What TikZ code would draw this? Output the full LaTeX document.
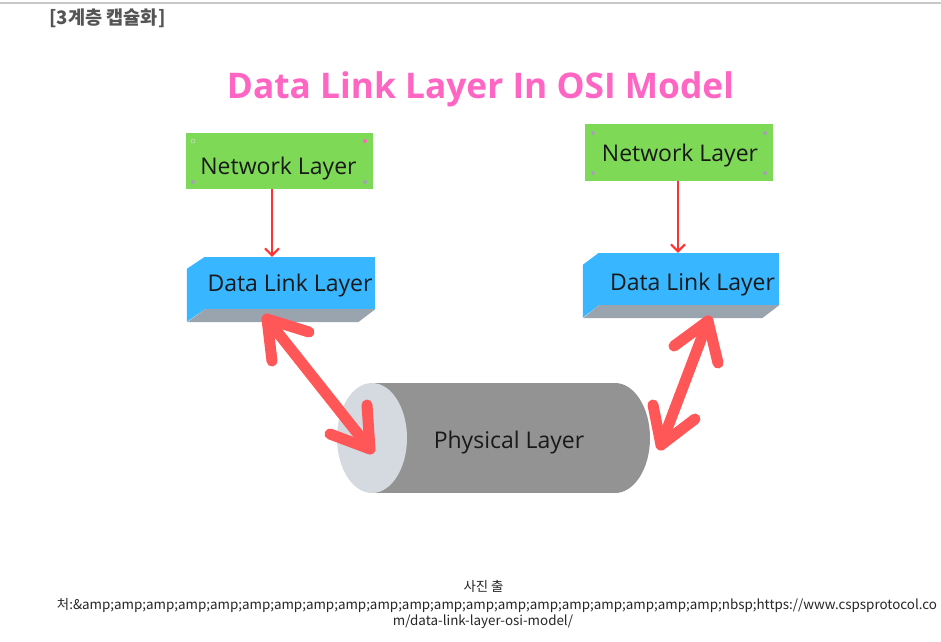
\documentclass[tikz,border=0pt]{standalone}
\usepackage{fontspec}
\setmainfont{Open Sans}
\newfontfamily\krfont{Noto Sans CJK KR}
\usetikzlibrary{arrows.meta}
\definecolor{netgreen}{HTML}{7ED957}
\definecolor{dlblue}{HTML}{38B6FF}
\definecolor{dlgray}{HTML}{9AA4AE}
\definecolor{cylgray}{HTML}{939393}
\definecolor{cylend}{HTML}{D5DAE0}
\definecolor{bigred}{HTML}{FF5757}
\definecolor{thinred}{HTML}{FF3131}
\definecolor{titlepink}{HTML}{FF66C4}
\definecolor{hdrgray}{HTML}{555555}
\definecolor{dotgray}{HTML}{A3A3B5}
\definecolor{topline}{HTML}{C8C8C8}
\begin{document}
\begin{tikzpicture}[x=1pt,y=-1pt,
  netbox/.style={fill=netgreen, minimum width=187pt, minimum height=56pt, inner sep=0pt},
  dlbox/.style={fill=dlblue, minimum height=52pt, inner sep=0pt},
  lbl/.style={anchor=base, font=\fontsize{23}{28}\selectfont, text=black!90, inner sep=0pt},
  thinarrow/.style={draw=thinred, line width=2pt, -{Straight Barb[length=7pt,width=14pt]}},
  bigarrow/.style={draw=bigred, line width=11pt, line cap=round, line join=round},
  handle/.style={circle, fill=dotgray, minimum size=4pt, inner sep=0pt},
  capt/.style={font=\krfont\fontsize{13.4}{16}\selectfont, text=black!85, inner sep=0pt},
]
\useasboundingbox (0,0) rectangle (941,641);
\fill[white] (0,0) rectangle (941,641);
\coordinate (tl) at (0,3);
\coordinate (tr) at (941,3);
\draw[topline, line width=1.5pt] (tl) -- (tr);

% header and title
\node[font=\krfont\bfseries\fontsize{18.6}{22}\selectfont, text=hdrgray, inner sep=0pt] (hdr) at (107.5,18) {[3계층 캡슐화]};
\node[anchor=base, text=titlepink, font=\bfseries\fontsize{35.3}{40}\selectfont, inner sep=0pt] (title) at (480.5,98) {Data Link Layer In OSI Model};

% network layer boxes
\node[netbox] (net1) at (279.5,161) {};
\node[lbl] (net1t) at (278.5,174.5) {Network Layer};
\node[netbox, minimum width=188pt, minimum height=57pt] (net2) at (679,152.5) {};
\node[lbl] (net2t) at (680,161) {Network Layer};

% handles
\node[handle, fill=titlepink] (h1) at (365,141) {};
\node[circle, draw=white!85!black, minimum size=4pt, inner sep=0pt, line width=0.5pt] (h2) at (193,141) {};
\node[handle] (h3) at (193,182) {};
\node[handle] (h4) at (365,182) {};
\node[handle] (h5) at (593,133) {};
\node[handle] (h6) at (765,133) {};
\node[handle] (h7) at (593,173) {};
\node[handle] (h8) at (765,173) {};

% data link boxes
\node[dlbox, minimum width=170pt] (dl1) at (290,283) {};
\fill[dlblue] (dl1.north west) -- ++(-18,12) -- ++(0,53) -- (dl1.south west) -- cycle;
\fill[dlgray] (dl1.south west) -- (dl1.south east) -- ++(-17,13) -- ++(-171,0) -- cycle;
\node[lbl] (dl1t) at (290,291) {Data Link Layer};

\node[dlbox, minimum width=180pt] (dl2) at (689,279) {};
\fill[dlblue] (dl2.north west) -- ++(-16,12) -- ++(0,53) -- (dl2.south west) -- cycle;
\fill[dlgray] (dl2.south west) -- (dl2.south east) -- ++(-17,13) -- ++(-179,0) -- cycle;
\node[lbl] (dl2t) at (692.5,290.5) {Data Link Layer};

% thin arrows
\draw[thinarrow] (net1.south -| 272,0) -- (dl1.north -| 272,0);
\draw[thinarrow] (net2.south -| 678,0) -- (dl2.north -| 678,0);

% cylinder
\node[minimum width=313pt, minimum height=110pt, inner sep=0pt] (cyl) at (493.5,438) {};
\fill[cylgray] (615,438) ellipse [x radius=35, y radius=55];
\fill[cylgray] (372,383) rectangle (615,493);
\fill[cylend] (372,438) ellipse [x radius=35, y radius=55];
\node[lbl] (phys) at (509,448.5) {Physical Layer};

% big double arrows
\coordinate (la1) at (267,319);
\coordinate (la2) at (370,449);
\coordinate (la1a) at (309,332);
\coordinate (la1b) at (272,361);
\coordinate (la2a) at (367,405);
\coordinate (la2b) at (330,434);
\draw[bigarrow] (la1) -- (la2);
\draw[bigarrow] (la1a) -- (la1) -- (la1b);
\draw[bigarrow] (la2a) -- (la2) -- (la2b);

\coordinate (ra1) at (708,321);
\coordinate (ra2) at (661,445);
\coordinate (ra1a) at (674,346);
\coordinate (ra1b) at (718,363);
\coordinate (ra2a) at (653,405);
\coordinate (ra2b) at (695,419);
\draw[bigarrow] (ra1) -- (ra2);
\draw[bigarrow] (ra1a) -- (ra1) -- (ra1b);
\draw[bigarrow] (ra2a) -- (ra2) -- (ra2b);

% caption
\node[capt] (c1) at (483.5,586.5) {사진 출};
\node[capt] (c2) at (497,605) {처:\&amp;amp;amp;amp;amp;amp;amp;amp;amp;amp;amp;amp;amp;amp;amp;amp;amp;amp;amp;amp;nbsp;https://www.cspsprotocol.co};
\node[capt] (c3) at (483,621.5) {m/data-link-layer-osi-model/};
\end{tikzpicture}
\end{document}
